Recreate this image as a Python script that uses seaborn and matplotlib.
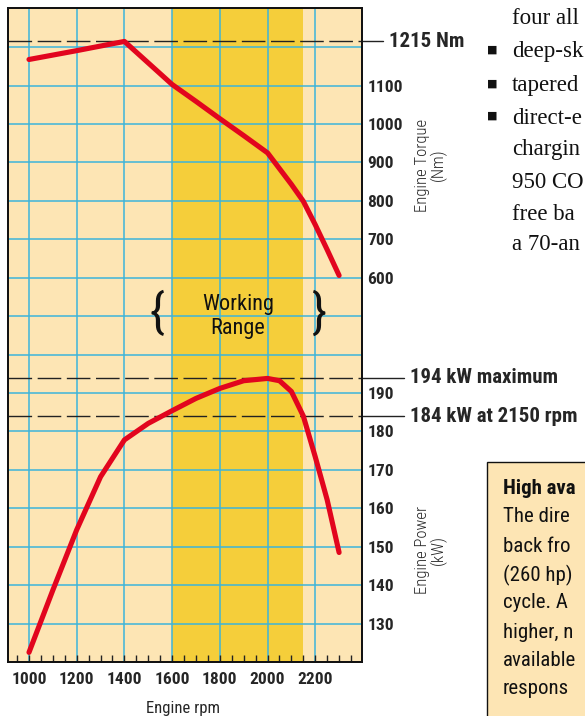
import numpy as np
import matplotlib.pyplot as plt
import seaborn as sns
import pandas as pd
from matplotlib.patches import Rectangle
from matplotlib.transforms import blended_transform_factory

# data
rpm_torque = [1000, 1200, 1400, 1500, 1600, 1700, 1800, 1900, 2000, 2100, 2150, 2200, 2250, 2300]
torque_nm = [1168, 1191, 1215, 1159, 1103, 1059, 1014, 970, 925, 843, 799, 738, 673, 606]

rpm_power = [1000, 1100, 1200, 1300, 1400, 1500, 1600, 1700, 1800, 1900, 2000, 2050, 2100, 2150, 2200, 2250, 2300]
power_kw = [122.5, 138.7, 154.4, 168.2, 177.8, 182.1, 185.4, 188.6, 191.2, 193.2, 193.8, 193.2, 190.4, 184, 173.4, 162.2, 148.5]

rpm_ticks = [1000, 1200, 1400, 1600, 1800, 2000, 2200]
torque_ticks = [600, 700, 800, 900, 1000, 1100]
power_ticks = [130, 140, 150, 160, 170, 180, 190]
working_range = (1600, 2150)

prose_lines = ["four all", "deep-sk", "tapered", "direct-e", "chargin", "950 CO", "free ba", "a 70-an"]
box_lines = ["The dire", "back fro", "(260 hp)", "cycle. A", "higher, n", "available", "respons"]

torque_df = pd.DataFrame({"rpm": rpm_torque, "torque": torque_nm})
power_df = pd.DataFrame({"rpm": rpm_power, "power": power_kw})

sns.set_style("white")
cond = ["Roboto Condensed", "DejaVu Sans"]
plt.rcParams["font.family"] = cond

BG = "#FDE5B4"
GOLD = "#F5CE3A"
GRID = "#3DB4DA"
RED = "#E2051E"

W, H = 585, 716
fx = lambda x: x / W
fy = lambda y: 1 - y / H

fig = plt.figure(figsize=(5.85, 7.16), dpi=100)
ax = fig.add_axes([fx(8), fy(662), (362 - 8) / W, (662 - 8) / H])
ax.set_facecolor(BG)
ax2 = ax.twinx()

ax.set_xlim(912, 2396)
ax.set_ylim(120, 290.2)
ax2.set_ylim(-400, 1302)

ax.axvspan(*working_range, color=GOLD, zorder=0.2, lw=0)

# grid
ax.set_axisbelow(True)
ax.set_xticks(rpm_ticks, [str(t) for t in rpm_ticks], fontweight="bold", fontsize=12.5, family=cond)
ax.set_xticks(np.arange(950, 2351, 50), minor=True)
grid_y = np.arange(130, 290, 10)
ax.set_yticks(grid_y, [str(int(v)) if v <= 190 else "" for v in grid_y],
              fontweight="bold", fontsize=12.5, family=cond)
ax.grid(True, which="major", color=GRID, lw=1.1)
ax.yaxis.tick_right()
ax.tick_params(axis="y", length=0, pad=4)
ax.tick_params(axis="x", which="both", direction="in", length=5, width=1, color="#222", pad=7, top=False, bottom=True)

ax2.set_yticks(torque_ticks, [str(t) for t in torque_ticks], fontweight="bold", fontsize=12.5, family=cond)
ax2.tick_params(axis="y", length=0, pad=4)
ax2.grid(False)

for a in (ax, ax2):
    for s in a.spines.values():
        s.set_color("#111")
        s.set_linewidth(1.3)

# dashed reference lines
dash = (0, (17, 4))
ax2.axhline(1215, color="#222", lw=1.0, ls=dash, zorder=2)
ax.axhline(194, color="#222", lw=1.0, ls=dash, zorder=2)
ax.axhline(184, color="#222", lw=1.0, ls=dash, zorder=2)

tr_p = blended_transform_factory(ax.transAxes, ax.transData)
tr_t = blended_transform_factory(ax2.transAxes, ax2.transData)
ax2.plot([1.0, 1.0593], [1215, 1215], color="#222", lw=1.0, transform=tr_t, clip_on=False)
ax2.text(1.0763, 1215, "1215 Nm", transform=tr_t, ha="left", va="center",
         fontsize=15, fontweight="bold", family=cond)
ax.plot([1.0, 1.1186], [194, 194], color="#222", lw=1.0, transform=tr_p, clip_on=False)
ax.text(1.1356, 194, "194 kW maximum", transform=tr_p, ha="left", va="center",
        fontsize=15, fontweight="bold", family=cond)
ax.plot([1.0, 1.1186], [184, 184], color="#222", lw=1.0, transform=tr_p, clip_on=False)
ax.text(1.1356, 184, "184 kW at 2150 rpm", transform=tr_p, ha="left", va="center",
        fontsize=15, fontweight="bold", family=cond)

# curves
sns.lineplot(data=power_df, x="rpm", y="power", ax=ax, color=RED, lw=3.7,
             sort=False, estimator=None, zorder=3, solid_capstyle="round")
sns.lineplot(data=torque_df, x="rpm", y="torque", ax=ax2, color=RED, lw=3.7,
             sort=False, estimator=None, zorder=3, solid_capstyle="round")
ax.set_xlabel("")
ax.set_ylabel("")
ax2.set_ylabel("")

# working range label
ax.text(sum(working_range) / 2, 210, "Working\nRange", ha="center", va="center",
        fontsize=16, linespacing=1.2, family=cond, color="#111")
ax.text(1537, 210.5, "{", ha="center", va="center", fontsize=35, family=cond, color="#111")
ax.text(2213, 210.5, "}", ha="center", va="center", fontsize=35, family=cond, color="#111")

# axis titles
fig.text(fx(183), fy(708), "Engine rpm", ha="center", va="center", fontsize=12, family=cond)
fig.text(fx(431), fy(165), "Engine Torque\n(Nm)", ha="center", va="center", rotation=90,
         fontsize=12, family=cond, fontweight="light", linespacing=1.0)
fig.text(fx(431), fy(550), "Engine Power\n(kW)", ha="center", va="center", rotation=90,
         fontsize=12, family=cond, fontweight="light", linespacing=1.0)

# surrounding page text
prose_y = [18, 52, 86, 118, 150, 182, 214, 245]
for i, (line, yy) in enumerate(zip(prose_lines, prose_y)):
    fig.text(fx(512), fy(yy), line, ha="left", va="center", fontsize=16.5,
             family=["Liberation Serif", "DejaVu Serif"], color="#111")
    if i in (1, 2, 3):
        fig.text(fx(492), fy(yy - 2), "\u25a0", ha="center", va="center", fontsize=8,
                 family="DejaVu Sans", color="#111")

fig.add_artist(Rectangle((fx(487), fy(740)), fx(200), (740 - 462) / H,
                         transform=fig.transFigure, facecolor=BG, edgecolor="#111", lw=1.0))
fig.text(fx(503), fy(489), "High ava", ha="left", va="center", fontsize=15,
         fontweight="bold", family=cond, color="#111")
box_y = [517, 546, 575, 603, 632, 660, 689]
for line, yy in zip(box_lines, box_y):
    fig.text(fx(503), fy(yy), line, ha="left", va="center", fontsize=15, family=cond, color="#111")

fig.savefig("out.png", dpi=100)
